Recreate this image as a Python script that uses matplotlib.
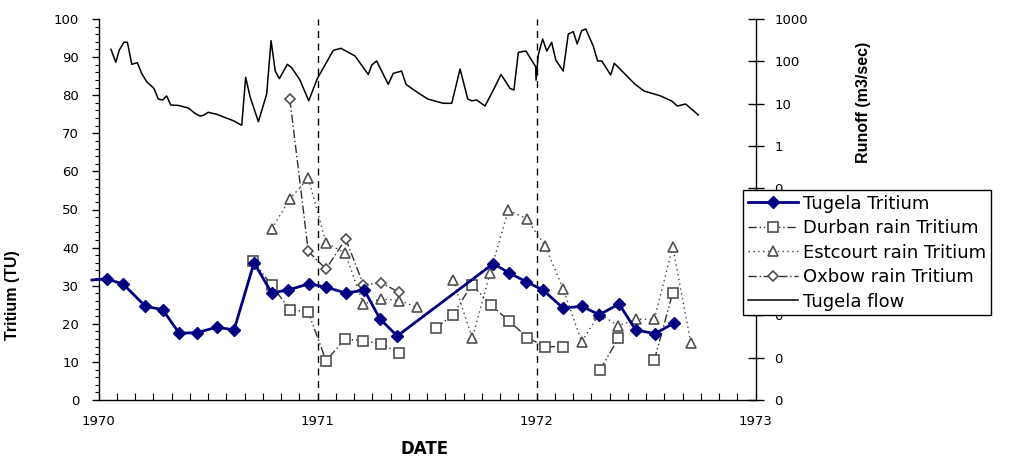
import numpy as np
import matplotlib
matplotlib.use('Agg')
import matplotlib.pyplot as plt
from matplotlib.ticker import MultipleLocator, FixedLocator, FuncFormatter

# Tritium series (TU), dates as decimal years
tugela_x = [1969.97, 1970.037, 1970.113, 1970.214, 1970.293, 1970.369, 1970.451, 1970.540, 1970.619,
            1970.710, 1970.791, 1970.867, 1970.961, 1971.039, 1971.129, 1971.214, 1971.285,
            1971.364, 1971.803, 1971.876, 1971.952, 1972.031, 1972.122, 1972.206, 1972.287,
            1972.377, 1972.453, 1972.541, 1972.628]
tugela_y = [31.5, 31.8, 30.4, 24.6, 23.7, 17.5, 17.7, 19.1, 18.4,
            36.0, 28.1, 28.9, 30.5, 29.6, 28.1, 28.8, 21.3,
            16.8, 35.8, 33.3, 31.1, 28.8, 24.1, 24.6, 22.4,
            25.2, 18.4, 17.4, 20.2]

durban_x = [1970.707, 1970.791, 1970.874, 1970.958, 1971.039, 1971.126, 1971.209, 1971.290,
            1971.374, 1971.45, 1971.541, 1971.620, 1971.704, 1971.791, 1971.874, 1971.958,
            1972.039, 1972.122, 1972.20, 1972.290, 1972.374, 1972.45, 1972.538, 1972.622]
durban_y = [36.4, 30.1, 23.7, 23.1, 10.3, 16.0, 15.6, 14.7,
            12.3, np.nan, 18.9, 22.4, 30.3, 25.0, 20.8, 16.4,
            14.0, 14.0, np.nan, 7.9, 16.2, np.nan, 10.5, 28.1]

estcourt_x = [1970.791, 1970.874, 1970.958, 1971.039, 1971.126, 1971.209, 1971.290, 1971.374,
              1971.456, 1971.54, 1971.620, 1971.707, 1971.788, 1971.871, 1971.955, 1972.039,
              1972.122, 1972.206, 1972.287, 1972.374, 1972.454, 1972.538, 1972.622, 1972.705]
estcourt_y = [44.9, 52.8, 58.2, 41.2, 38.6, 25.2, 26.5, 26.1,
              24.3, np.nan, 31.4, 16.2, 33.3, 49.8, 47.6, 40.5,
              29.1, 15.3, 22.6, 19.5, 21.2, 21.2, 40.2, 14.9]

oxbow_x = [1970.874, 1970.958, 1971.039, 1971.129, 1971.209, 1971.290, 1971.374]
oxbow_y = [78.9, 39.0, 34.4, 42.3, 30.3, 30.7, 28.3]

# Tugela flow (m3/sec), right log axis
flow_x = [1970.057, 1970.079, 1970.095, 1970.116, 1970.132, 1970.152, 1970.177, 1970.197,
          1970.220, 1970.253, 1970.273, 1970.293, 1970.311, 1970.330, 1970.364, 1970.410,
          1970.441, 1970.463, 1970.479, 1970.501, 1970.540, 1970.616, 1970.654, 1970.672,
          1970.692, 1970.730, 1970.768, 1970.788, 1970.807, 1970.826, 1970.862, 1970.882,
          1970.920, 1970.960, 1970.999, 1971.072, 1971.107, 1971.171, 1971.232, 1971.248,
          1971.270, 1971.323, 1971.346, 1971.384, 1971.404, 1971.445, 1971.503, 1971.574,
          1971.613, 1971.651, 1971.686, 1971.704, 1971.727, 1971.765, 1971.803, 1971.838,
          1971.879, 1971.897, 1971.917, 1971.952, 1971.996, 1971.998, 1972.008, 1972.028,
          1972.047, 1972.069, 1972.088, 1972.122, 1972.145, 1972.168, 1972.186, 1972.206,
          1972.225, 1972.259, 1972.279, 1972.298, 1972.339, 1972.355, 1972.389, 1972.450,
          1972.491, 1972.564, 1972.617, 1972.643, 1972.681, 1972.739]
flow_y = [192, 95, 185, 282, 282, 85, 93, 52,
          33, 23, 12.9, 12.2, 15.2, 9.3, 9.1, 7.9,
          5.9, 5.1, 5.3, 6.25, 5.6, 3.95, 3.08, 42,
          14.6, 3.75, 16.9, 307, 59, 39, 85, 71,
          36, 11.7, 39, 182, 203, 134, 49, 82,
          102, 28.7, 52, 59, 28.7, 20.2, 12.9, 10.2,
          10.2, 66, 12.9, 11.7, 12.2, 8.8, 21, 49,
          23, 21, 163, 175, 75, 36, 141, 337,
          175, 282, 107, 59, 442, 501, 257, 529,
          581, 230, 102, 102, 47.5, 90, 60, 28.7,
          19.9, 15.4, 11.6, 8.8, 9.8, 5.4]

tick_font = 'DejaVu Sans'
label_font = 'Liberation Sans'

fig = plt.figure(figsize=(10.34, 4.59), dpi=100)
ax = fig.add_axes([98.5 / 1034, 59 / 459, 657 / 1034, 381 / 459])
ax2 = ax.twinx()

# dashed year markers
for yr in (1971, 1972):
    ax.axvline(yr, color='black', lw=1, linestyle=(0, (5, 4)), zorder=1)

gray = '#505050'
l1, = ax.plot(tugela_x, tugela_y, color='#000080', lw=2, marker='D', ms=6,
              markevery=list(range(1, len(tugela_x))), zorder=5, label='Tugela Tritium')
l1.set_clip_on(False)
l2, = ax.plot(durban_x, durban_y, color='#303030', lw=1, linestyle=(0, (6, 2, 1, 2, 1, 2)),
              marker='s', ms=7, mfc='white', mec=gray, mew=1.2, zorder=4, label='Durban rain Tritium')
l3, = ax.plot(estcourt_x, estcourt_y, color='#404040', lw=1, linestyle=(0, (1, 2.5)),
              marker='^', ms=7.5, mfc='white', mec=gray, mew=1.2, zorder=3, label='Estcourt rain Tritium')
l4, = ax.plot(oxbow_x, oxbow_y, color='#303030', lw=1, linestyle=(0, (6, 2, 1, 2)),
              marker='D', ms=5.5, mfc='white', mec=gray, mew=1.2, zorder=3, label='Oxbow rain Tritium')
l5, = ax2.plot(flow_x, flow_y, color='black', lw=1.1, label='Tugela flow')

# left axis
ax.set_xlim(1970, 1973)
ax.set_ylim(0, 100)
ax.yaxis.set_major_locator(MultipleLocator(10))
ax.yaxis.set_minor_locator(MultipleLocator(2))
ax.xaxis.set_major_locator(MultipleLocator(1))
ax.xaxis.set_minor_locator(MultipleLocator(1 / 12))
ax.xaxis.set_major_formatter(FuncFormatter(lambda v, p: f'{v:.0f}'))
ax.tick_params(axis='y', which='major', direction='out', length=5, width=1, pad=9,
               labelsize=9.5, left=True, right=False)
ax.tick_params(axis='y', which='minor', direction='out', length=3, width=0.8, right=False)
ax.tick_params(axis='x', which='both', direction='in', length=5, width=0.8, pad=11, labelsize=9.5)
for lab in ax.get_xticklabels() + ax.get_yticklabels():
    lab.set_family(tick_font)

# right log axis
ax2.set_yscale('log')
ax2.set_ylim(1e-6, 1e3)
ax2.yaxis.set_major_locator(FixedLocator([10.0 ** k for k in range(-6, 4)]))
ax2.yaxis.set_minor_locator(FixedLocator([]))
ax2.yaxis.set_major_formatter(FuncFormatter(lambda v, p: f'{v:.0f}'))
ax2.tick_params(axis='y', which='major', direction='inout', length=12, width=1, pad=7.5, labelsize=9.5)
for lab in ax2.get_yticklabels():
    lab.set_family(tick_font)

for a in (ax, ax2):
    a.spines['top'].set_visible(False)
ax.spines['right'].set_visible(False)
ax2.spines['left'].set_visible(False)
ax2.spines['bottom'].set_visible(False)
for s in ('left', 'bottom'):
    ax.spines[s].set_linewidth(1)
ax2.spines['right'].set_linewidth(1)

ax.set_ylabel('Tritium (TU)', fontsize=11.5, fontweight='bold', family=label_font)
ax.yaxis.set_label_coords(-0.120, 0.274)
ax2.set_ylabel('Runoff (m3/sec)', fontsize=11.5, fontweight='bold', family=label_font)
ax2.yaxis.set_label_coords(1.153, 0.781)
ax.set_xlabel('DATE', fontsize=12, fontweight='bold', family=tick_font)
ax.xaxis.set_label_coords(0.497, -0.105)

leg = fig.legend([l1, l2, l3, l4, l5],
                 [h.get_label() for h in (l1, l2, l3, l4, l5)],
                 loc='upper left', bbox_to_anchor=(743 / 1034, 1 - 190 / 459),
                 prop={'family': tick_font, 'size': 13}, frameon=True, fancybox=False,
                 framealpha=1, edgecolor='black', borderpad=0.25, labelspacing=0.36,
                 handlelength=2.8, handletextpad=0.3, borderaxespad=0)
leg.get_frame().set_linewidth(1)

fig.savefig('out.png', dpi=100)
